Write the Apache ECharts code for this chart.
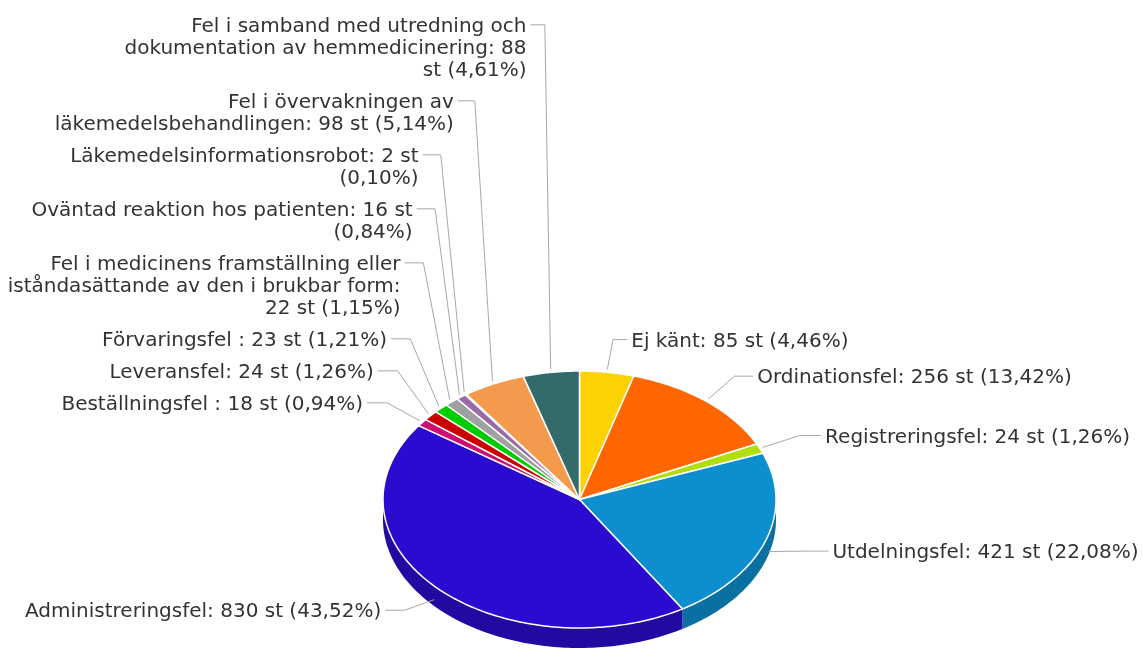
<!DOCTYPE html>
<html lang="sv">
<head>
<meta charset="UTF-8">
<title>Avvikelser läkemedel</title>
<script src="https://cdn.jsdelivr.net/npm/echarts@6/dist/echarts.min.js"></script>
<style>
    html, body { margin: 0; background: #fff; }
    #chart { width: 1143px; height: 650px; }
</style>
</head>
<body>
<div id="chart"></div>
<script>
    // data
    var categories = ['Ej känt', 'Ordinationsfel', 'Registreringsfel', 'Utdelningsfel', 'Administreringsfel',
        'Beställningsfel ', 'Leveransfel', 'Förvaringsfel ',
        'Fel i medicinens framställning eller iståndasättande av den i brukbar form',
        'Oväntad reaktion hos patienten', 'Läkemedelsinformationsrobot',
        'Fel i övervakningen av läkemedelsbehandlingen',
        'Fel i samband med utredning och dokumentation av hemmedicinering'];
    var values = [85, 256, 24, 421, 830, 18, 24, 23, 22, 16, 2, 98, 88];
    var colors = ['#fcd202', '#ff6600', '#b0de09', '#0d8ecf', '#2a0cd0', '#cd0d74', '#cc0000', '#00cc00',
        '#a0a0a0', '#9a6aa8', '#754deb', '#f39a4c', '#336b6b'];

    // layout of the tilted pie
    var cx = 579.5, cy = 499.5, rx = 196.5, ry = 128.5, depth = 20;
    var FONT = '20px "DejaVu Sans"';
    var LINE_H = 22;

    var total = values.reduce(function (a, b) { return a + b; }, 0);
    var starts = [], ends = [], acc = 0;
    values.forEach(function (v) {
        starts.push(acc / total * 360);
        acc += v;
        ends.push(acc / total * 360);
    });

    var ctx = document.createElement('canvas').getContext('2d');
    ctx.font = FONT;
    function wrap(str, maxW) {
        var words = str.split(' '), lines = [], cur = '';
        words.forEach(function (w) {
            var t = cur ? cur + ' ' + w : w;
            if (cur && ctx.measureText(t).width > maxW) {
                lines.push(cur);
                cur = w;
            } else {
                cur = t;
            }
        });
        lines.push(cur);
        return lines;
    }

    // label placement: natural spot on a wider ellipse, then pushed apart
    var labels = values.map(function (v, i) {
        var mid = (starts[i] + ends[i]) / 2;
        var a = mid * Math.PI / 180;
        var pct = (v / total * 100).toFixed(2).replace('.', ',');
        var lines = wrap(categories[i] + ': ' + v + ' st (' + pct + '%)', 405);
        return {
            i: i, mid: mid, s: Math.sin(a), c: Math.cos(a), left: Math.sin(a) < 0,
            lines: lines, y: cy - 161.5 * Math.cos(a), h: lines.length * LINE_H + 10
        };
    });

    var leftL = labels.filter(function (l) { return l.left; }).sort(function (a, b) { return b.y - a.y; });
    var limit = Infinity;
    leftL.forEach(function (l) {
        var top = l.y - 15;
        if (top + l.h > limit) top = limit - l.h;
        l.y = top + 15;
        limit = top;
    });
    limit = 4;
    leftL.slice().reverse().forEach(function (l) {
        var top = l.y - 15;
        if (top < limit) top = limit;
        l.y = top + 15;
        limit = top + l.h;
    });
    var rightL = labels.filter(function (l) { return !l.left; }).sort(function (a, b) { return a.y - b.y; });
    limit = -Infinity;
    rightL.forEach(function (l) {
        var top = l.y - 15;
        if (top < limit) top = limit;
        l.y = top + 15;
        limit = top + l.h;
    });

    function arc(a0, a1, dy, extra) {
        var pts = [], n = Math.max(2, Math.ceil((a1 - a0) / 1) + 1);
        extra = extra || 0;
        for (var k = 0; k < n; k++) {
            var a = (a0 + (a1 - a0) * k / (n - 1)) * Math.PI / 180;
            pts.push([cx + (rx + extra) * Math.sin(a), cy - (ry + extra) * Math.cos(a) + dy]);
        }
        return pts;
    }

    function shade(hex, f) {
        var n = parseInt(hex.slice(1), 16);
        var r = Math.round(((n >> 16) & 255) * f), g = Math.round(((n >> 8) & 255) * f), b = Math.round((n & 255) * f);
        return 'rgb(' + r + ',' + g + ',' + b + ')';
    }

    function renderItem(params, api) {
        var i = params.dataIndex;
        var a0 = starts[i], a1 = ends[i];
        var color = colors[i];
        var children = [];

        // front wall
        var f0 = Math.max(a0, 90), f1 = Math.min(a1, 270);
        if (f1 > f0) {
            var topEdge = arc(f0, f1, 0), botEdge = arc(f0, f1, depth).reverse();
            children.push({
                type: 'polygon', z2: 0,
                shape: { points: topEdge.concat(botEdge) },
                style: { fill: shade(color, 0.78) }
            });
        }
        // top face
        children.push({
            type: 'polygon', z2: 1,
            shape: { points: [[cx, cy]].concat(arc(a0, a1, 0)) },
            style: { fill: color, stroke: '#fff', lineWidth: 1.5, lineJoin: 'round' }
        });

        // label + connector
        var L = labels[i];
        var as = Math.abs(L.s);
        var dir = L.left ? -1 : 1;
        var tx = cx + dir * (17 + 249 * as);
        var xb = cx + dir * 240 * as;
        var front = L.mid > 90 && L.mid < 270;
        var p = arc(L.mid, L.mid, front ? depth / 2 : 0, 3)[0];
        children.push({
            type: 'polyline', z2: 2,
            shape: { points: [[tx - dir * 4, L.y], [xb, L.y], p] },
            style: { stroke: '#a8a8a8', lineWidth: 1, fill: null }
        });
        children.push({
            type: 'text', z2: 3,
            x: tx, y: L.y - 9,
            style: {
                text: L.lines.join('\n'), font: FONT, fill: '#333',
                align: L.left ? 'right' : 'left', verticalAlign: 'top', lineHeight: LINE_H
            }
        });
        return { type: 'group', children: children };
    }

    var chart = echarts.init(document.getElementById('chart'));
    chart.setOption({
        backgroundColor: '#fff',
        animation: false,
        series: [{
            type: 'custom',
            coordinateSystem: 'none',
            silent: true,
            renderItem: renderItem,
            data: values
        }]
    });
</script>
</body>
</html>
